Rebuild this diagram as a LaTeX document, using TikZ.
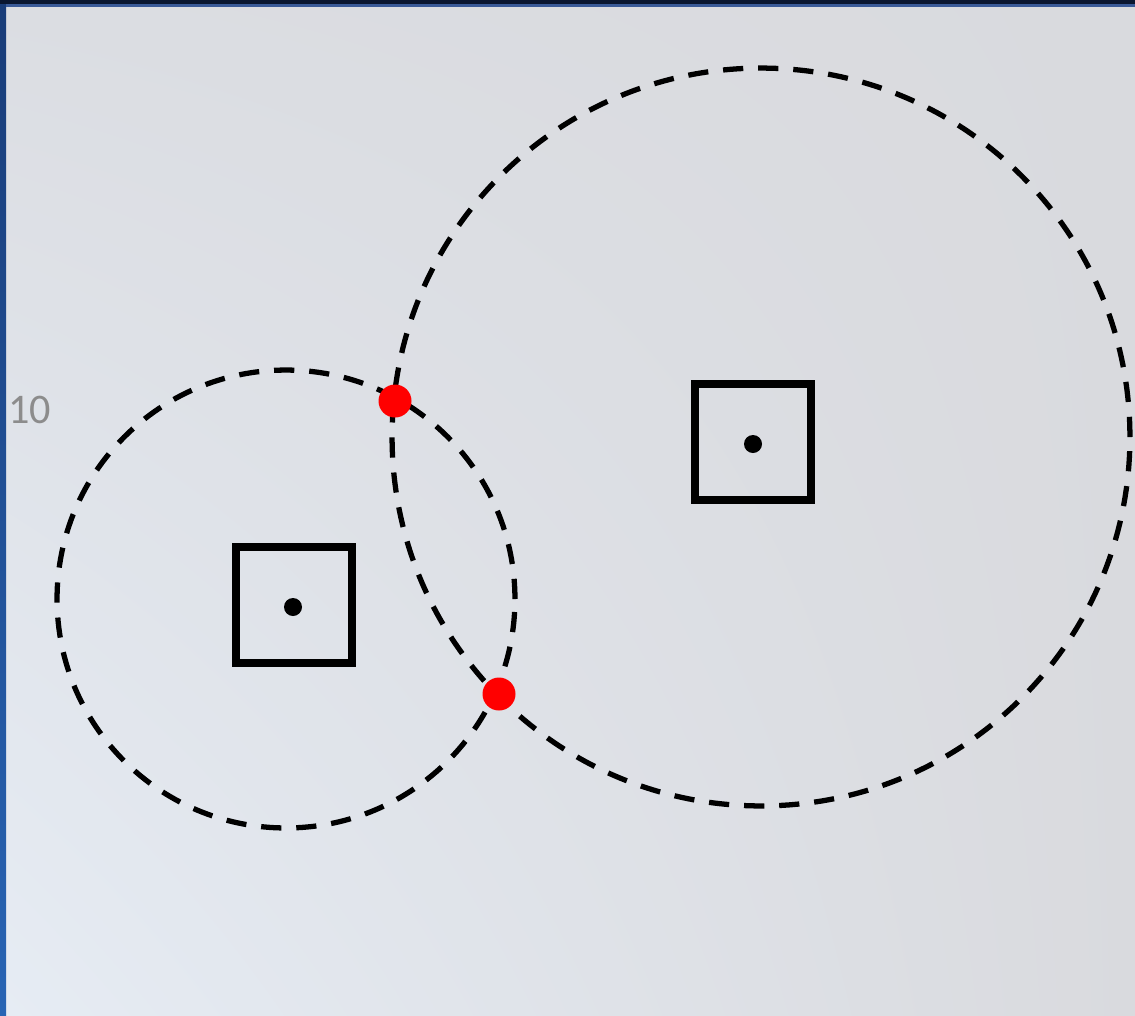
\documentclass[tikz,border=0pt]{standalone}
\usepackage{fontspec}
\newfontfamily\slidefont{Carlito}
\usetikzlibrary{shadings}
\definecolor{slidegray}{RGB}{217,218,222}
\definecolor{slidelight}{RGB}{230,236,244}
\definecolor{slidetint}{RGB}{219,221,226}
\definecolor{framenavy}{RGB}{10,22,48}
\definecolor{frameblue}{RGB}{58,90,152}
\definecolor{sideblue}{RGB}{40,100,180}
\definecolor{sidedark}{RGB}{25,60,120}
\definecolor{labelgray}{RGB}{140,140,140}
\begin{document}
\begin{tikzpicture}[
  x=0.02cm, y=-0.02cm,
  ring/.style={draw, line width=3pt, dash pattern=on 11.5pt off 8.5pt},
  tower/.style={draw, line width=4.5pt, minimum size=2.32cm, inner sep=0pt},
  core/.style={fill, circle, minimum size=0.36cm, inner sep=0pt},
  fix/.style={fill=red, circle, minimum size=0.66cm, inner sep=0pt}
]
\useasboundingbox (0,0) rectangle (1135,1015);
% slide background
\shade[upper left=slidetint, lower left=slidelight, upper right=slidegray, lower right=slidegray] (0,0) rectangle (1135,1015);
\shade[top color=sidedark, bottom color=sideblue] (0,0) rectangle (6,1015);
\fill[framenavy] (0,0) rectangle (1135,4);
\fill[frameblue] (6,4) rectangle (1135,7);
\node[anchor=base west, inner sep=0pt, text=labelgray, font=\slidefont\fontsize{24pt}{28pt}\selectfont] (scale) at (8,423) {10};
% two range circles
\draw[ring] (286,599) circle[radius=4.58cm];
\draw[ring] (761,437) circle[radius=7.38cm];
% stations
\node[tower] (towerA) at (294,605) {};
\node[core] (coreA) at (293,607) {};
\node[tower] (towerB) at (753,442) {};
\node[core] (coreB) at (753,444) {};
% crossing points
\node[fix] (fixA) at (395,401) {};
\node[fix] (fixB) at (499,694) {};
\end{tikzpicture}
\end{document}
